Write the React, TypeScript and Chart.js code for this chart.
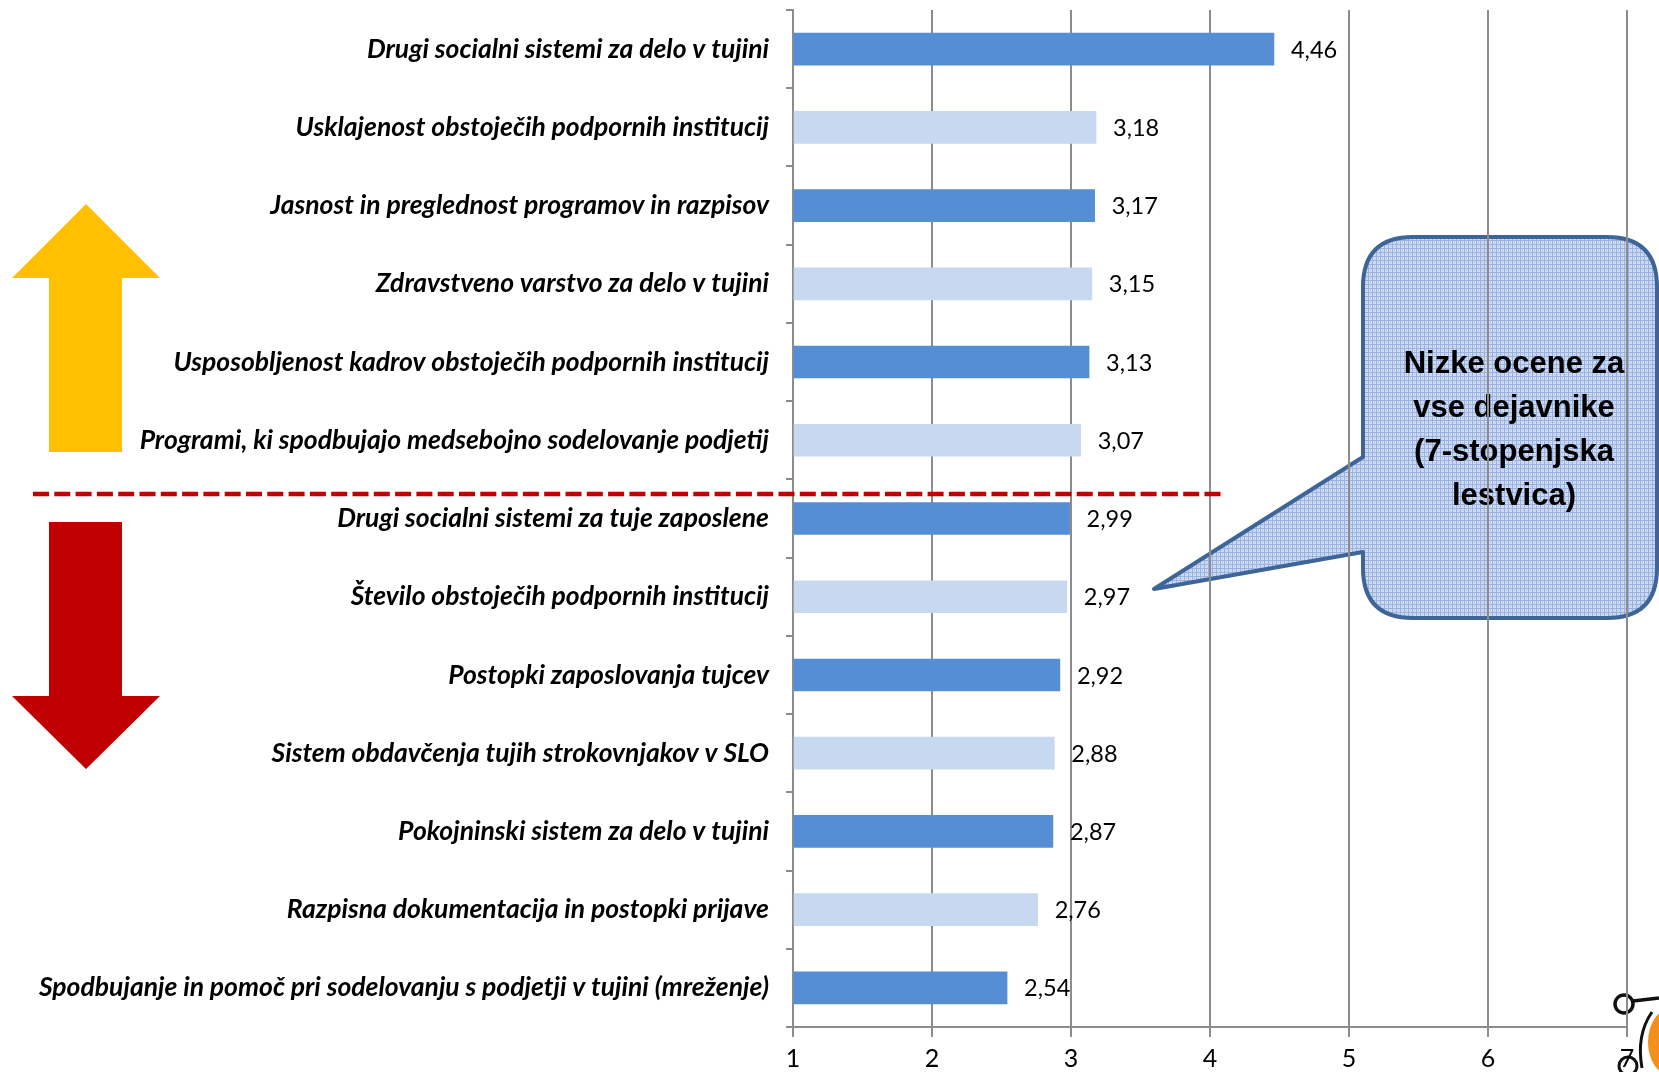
import React, { useEffect, useRef } from "react";
import { Chart, registerables } from "chart.js";

Chart.register(...registerables);

const categories: string[] = [
  "Drugi socialni sistemi za delo v tujini",
  "Usklajenost obstoječih podpornih institucij",
  "Jasnost in preglednost programov in razpisov",
  "Zdravstveno varstvo za delo v tujini",
  "Usposobljenost kadrov obstoječih podpornih institucij",
  "Programi, ki spodbujajo medsebojno sodelovanje podjetij",
  "Drugi socialni sistemi za tuje zaposlene",
  "Število obstoječih podpornih institucij",
  "Postopki zaposlovanja tujcev",
  "Sistem obdavčenja tujih strokovnjakov v SLO",
  "Pokojninski sistem za delo v tujini",
  "Razpisna dokumentacija in postopki prijave",
  "Spodbujanje in pomoč pri sodelovanju s podjetji v tujini (mreženje)",
];

const values: number[] = [4.46, 3.18, 3.17, 3.15, 3.13, 3.07, 2.99, 2.97, 2.92, 2.88, 2.87, 2.76, 2.54];

const xTickLabels: string[] = ["1", "2", "3", "4", "5", "6", "7"];

const calloutLines: string[] = ["Nizke ocene za", "vse dejavnike", "(7-stopenjska", "lestvica)"];

const DARK_BAR = "#558ED5";
const LIGHT_BAR = "#C6D9F1";
const GRID = "#8C8C8C";
const LABEL_FONT = 'Lato, "Open Sans", sans-serif';

function makePattern(ctx: CanvasRenderingContext2D): CanvasPattern | string {
  const c = document.createElement("canvas");
  c.width = 4;
  c.height = 4;
  const p = c.getContext("2d");
  if (!p) return "#BCCDE9";
  p.fillStyle = "#CFDCF1";
  p.fillRect(0, 0, 4, 4);
  p.fillStyle = "#98B1DE";
  p.fillRect(0, 0, 1, 4);
  p.fillRect(0, 0, 4, 1);
  p.fillStyle = "#B3C6E8";
  p.fillRect(2, 2, 1, 1);
  return ctx.createPattern(c, "repeat") || "#BCCDE9";
}

const backgroundPlugin = {
  id: "backgroundDecor",
  beforeDraw(chart: any) {
    const ctx: CanvasRenderingContext2D = chart.ctx;
    ctx.save();
    ctx.fillStyle = "#FFFFFF";
    ctx.fillRect(0, 0, chart.width, chart.height);

    // Callout
    const L = 1363, T = 237, R = 1657, B = 618, r = 50;
    const tipX = 1154, tipY = 589;
    const j1 = 457, j2 = 552;
    ctx.beginPath();
    ctx.moveTo(L + r, T);
    ctx.lineTo(R - r, T);
    ctx.quadraticCurveTo(R, T, R, T + r);
    ctx.lineTo(R, B - r);
    ctx.quadraticCurveTo(R, B, R - r, B);
    ctx.lineTo(L + r, B);
    ctx.quadraticCurveTo(L, B, L, B - r);
    ctx.lineTo(L, j2);
    ctx.lineTo(tipX, tipY);
    ctx.lineTo(L, j1);
    ctx.lineTo(L, T + r);
    ctx.quadraticCurveTo(L, T, L + r, T);
    ctx.closePath();
    ctx.fillStyle = makePattern(ctx) as any;
    ctx.fill();
    ctx.lineWidth = 4;
    ctx.lineJoin = "round";
    ctx.strokeStyle = "#3E6597";
    ctx.stroke();

    ctx.fillStyle = "#000000";
    ctx.font = 'bold 31px "Liberation Sans Narrow", "Liberation Sans", Arial, sans-serif';
    ctx.textAlign = "center";
    ctx.textBaseline = "alphabetic";
    calloutLines.forEach((line, i) => {
      ctx.fillText(line, 1514, 373 + i * 44);
    });

    // Logo fragment (bottom right)
    ctx.fillStyle = "#F39019";
    ctx.beginPath();
    ctx.ellipse(1672, 1042, 24, 34, 0, 0, Math.PI * 2);
    ctx.fill();
    ctx.strokeStyle = "#111111";
    ctx.lineWidth = 3.5;
    ctx.beginPath();
    ctx.arc(1624, 1004, 9, 0, Math.PI * 2);
    ctx.stroke();
    ctx.beginPath();
    ctx.moveTo(1633, 1001);
    ctx.lineTo(1659, 998);
    ctx.stroke();
    ctx.lineWidth = 3;
    ctx.beginPath();
    ctx.moveTo(1652, 1012);
    ctx.quadraticCurveTo(1636, 1035, 1642, 1068);
    ctx.stroke();
    ctx.beginPath();
    ctx.arc(1628, 1066, 9, 0, Math.PI * 2);
    ctx.stroke();
    ctx.restore();
  },
};

const foregroundPlugin = {
  id: "foregroundDecor",
  afterDatasetsDraw(chart: any) {
    const ctx: CanvasRenderingContext2D = chart.ctx;
    const meta = chart.getDatasetMeta(0);
    ctx.save();
    ctx.fillStyle = "#000000";
    ctx.font = `23.5px ${LABEL_FONT}`;
    ctx.textAlign = "left";
    ctx.textBaseline = "middle";
    meta.data.forEach((bar: any, i: number) => {
      const txt = values[i].toFixed(2).replace(".", ",");
      ctx.fillText(txt, bar.x + 17, bar.y + 1);
    });
    ctx.restore();
  },
  afterDraw(chart: any) {
    const ctx: CanvasRenderingContext2D = chart.ctx;
    ctx.save();
    // Dashed separator
    ctx.strokeStyle = "#C00000";
    ctx.lineWidth = 4.5;
    ctx.setLineDash([16, 5.3]);
    ctx.beginPath();
    ctx.moveTo(33, 494);
    ctx.lineTo(1224, 494);
    ctx.stroke();
    ctx.setLineDash([]);

    // Yellow up arrow
    ctx.fillStyle = "#FFC000";
    ctx.beginPath();
    ctx.moveTo(86, 204);
    ctx.lineTo(160, 278);
    ctx.lineTo(122, 278);
    ctx.lineTo(122, 452);
    ctx.lineTo(49, 452);
    ctx.lineTo(49, 278);
    ctx.lineTo(12, 278);
    ctx.closePath();
    ctx.fill();

    // Red down arrow
    ctx.fillStyle = "#C00000";
    ctx.beginPath();
    ctx.moveTo(49, 522);
    ctx.lineTo(122, 522);
    ctx.lineTo(122, 696);
    ctx.lineTo(160, 696);
    ctx.lineTo(86, 769);
    ctx.lineTo(12, 696);
    ctx.lineTo(49, 696);
    ctx.closePath();
    ctx.fill();
    ctx.restore();
  },
};

export default function App() {
  const canvasRef = useRef<HTMLCanvasElement | null>(null);

  useEffect(() => {
    const canvas = canvasRef.current;
    if (!canvas) return;
    const chart = new Chart(canvas, {
      type: "bar",
      data: {
        labels: categories,
        datasets: [
          {
            data: values,
            base: 1,
            backgroundColor: values.map((_, i) => (i % 2 === 0 ? DARK_BAR : LIGHT_BAR)),
            borderWidth: 0,
            barThickness: 32,
          } as any,
        ],
      },
      options: {
        indexAxis: "y",
        responsive: false,
        animation: false,
        devicePixelRatio: 1,
        layout: { padding: { top: 10, right: 32, left: 0, bottom: 0 } },
        plugins: {
          legend: { display: false },
          tooltip: { enabled: false },
          title: { display: false },
        },
        scales: {
          x: {
            type: "linear",
            min: 1,
            max: 7,
            position: "bottom",
            ticks: {
              stepSize: 1,
              color: "#000000",
              font: { family: LABEL_FONT, size: 25 },
              padding: 7,
              callback: (v: any) => xTickLabels[Number(v) - 1] ?? "",
            },
            grid: {
              color: GRID,
              lineWidth: 2,
              drawTicks: true,
              tickLength: 10,
              tickColor: GRID,
            },
            border: { display: true, color: GRID, width: 2 },
            afterFit: (scale: any) => {
              scale.height = 45;
              scale.paddingLeft = 0;
              scale.paddingRight = 0;
            },
          },
          y: {
            type: "category",
            position: "left",
            ticks: {
              color: "#000000",
              font: { family: LABEL_FONT, size: 26.5, style: "italic", weight: "bold" },
              padding: 17,
              autoSkip: false,
            },
            grid: {
              display: true,
              drawOnChartArea: false,
              drawTicks: true,
              tickLength: 7,
              color: GRID,
              lineWidth: 2,
              offset: true,
            },
            border: { display: true, color: GRID, width: 2 },
            afterFit: (scale: any) => {
              scale.width = 793;
              scale.paddingTop = 0;
              scale.paddingBottom = 0;
            },
          },
        },
      } as any,
      plugins: [backgroundPlugin, foregroundPlugin],
    });
    return () => chart.destroy();
  }, []);

  return (
    <div style={{ position: "fixed", left: 0, top: 0, width: 1659, height: 1072, background: "#fff" }}>
      <canvas ref={canvasRef} width={1659} height={1072} style={{ width: 1659, height: 1072, display: "block" }} />
    </div>
  );
}
